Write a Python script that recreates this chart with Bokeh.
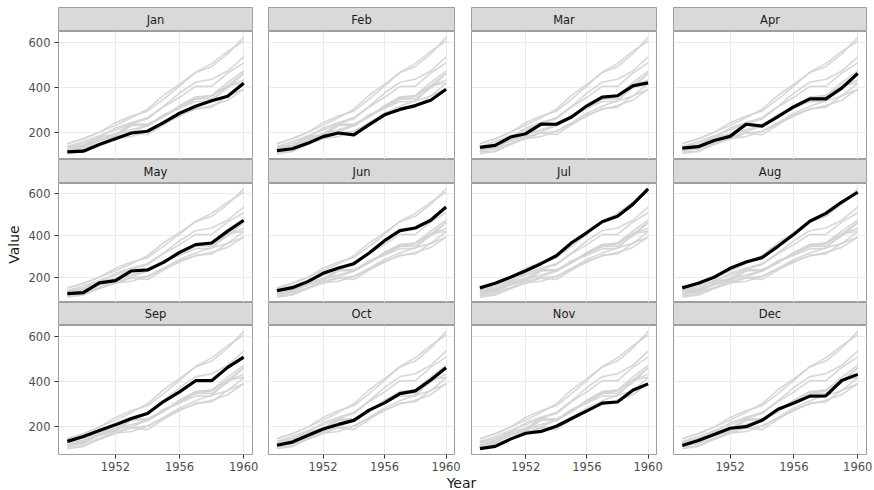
from bokeh.plotting import figure
from bokeh.models import Range1d, FixedTicker, LinearAxis, Grid
from bokeh.layouts import row, column
from bokeh.core.properties import value
from bokeh.embed import file_html
from bokeh.resources import INLINE

years = [1949, 1950, 1951, 1952, 1953, 1954, 1955, 1956, 1957, 1958, 1959, 1960]
months = ["Jan", "Feb", "Mar", "Apr", "May", "Jun", "Jul", "Aug", "Sep", "Oct", "Nov", "Dec"]

jan = [112, 115, 145, 171, 196, 204, 242, 284, 315, 340, 360, 417]
feb = [118, 126, 150, 180, 196, 188, 233, 277, 301, 318, 342, 391]
mar = [132, 141, 178, 193, 236, 235, 267, 317, 356, 362, 406, 419]
apr = [129, 135, 163, 181, 235, 227, 269, 313, 348, 348, 396, 461]
may = [121, 125, 172, 183, 229, 234, 270, 318, 355, 363, 420, 472]
jun = [135, 149, 178, 218, 243, 264, 315, 374, 422, 435, 472, 535]
jul = [148, 170, 199, 230, 264, 302, 364, 413, 465, 491, 548, 622]
aug = [148, 170, 199, 242, 272, 293, 347, 405, 467, 505, 559, 606]
sep = [136, 158, 184, 209, 237, 259, 312, 355, 404, 404, 463, 508]
oct_ = [119, 133, 162, 191, 211, 229, 274, 306, 347, 359, 407, 461]
nov = [104, 114, 146, 172, 180, 203, 237, 271, 305, 310, 362, 390]
dec = [118, 140, 166, 194, 201, 229, 278, 306, 336, 337, 405, 432]
series = [jan, feb, mar, apr, may, jun, jul, aug, sep, oct_, nov, dec]

x_ticks = [1952, 1956, 1960]
y_ticks = [200, 400, 600]

FONT = "DejaVu Sans"
GRID = "#EBEBEB"
BORDER = "#9E9E9E"
STRIP = "#D9D9D9"

# layout geometry (page margin is 0 with Bokeh's template)
vfig_w = 25
col_borders = [(33, 194, 8), (8, 186, 8), (9, 185, 8), (9, 193, 6)]
strip_top = [7, 0, 0]
strip_h = [24, 24, 23]
frame_h = [128, 119, 129]
bottom_axis = 19
year_h = 17


def style_axis(ax):
    ax.axis_line_color = None
    ax.major_tick_line_color = "#333333"
    ax.major_tick_out = 4
    ax.major_tick_in = 0
    ax.minor_tick_line_color = None
    ax.major_label_standoff = 4
    ax.major_label_text_font = FONT
    ax.major_label_text_font_size = "11.5px"
    ax.major_label_text_color = "#4D4D4D"


def make_strip(c, r, label):
    bl, fw, br = col_borders[c]
    s = figure(width=bl + fw + br, height=strip_h[r] + strip_top[r],
               x_range=Range1d(0, 1), y_range=Range1d(0, 1),
               x_axis_location=None, y_axis_location=None, toolbar_location=None,
               output_backend="svg", min_border_left=bl, min_border_right=br,
               min_border_top=strip_top[r], min_border_bottom=0,
               background_fill_color=STRIP, outline_line_color=BORDER, outline_line_width=1)
    s.grid.visible = False
    s.text(x=[0.5], y=[0.5], text=[label], text_align="center", text_baseline="middle",
           text_font=value(FONT), text_font_size="11.5px", text_color="#1A1A1A")
    return s


def make_panel(c, r, idx):
    bl, fw, br = col_borders[c]
    bb = bottom_axis if r == 2 else 0
    p = figure(width=bl + fw + br, height=frame_h[r] + bb,
               x_range=Range1d(1948.45, 1960.55), y_range=Range1d(78.1, 647.9),
               x_axis_location=None, y_axis_location=None, toolbar_location=None,
               output_backend="svg", min_border_left=bl, min_border_right=br,
               min_border_top=0, min_border_bottom=bb,
               background_fill_color="white", outline_line_color=BORDER, outline_line_width=1)
    p.grid.visible = False
    p.add_layout(Grid(dimension=0, ticker=FixedTicker(ticks=x_ticks), grid_line_color=GRID))
    p.add_layout(Grid(dimension=1, ticker=FixedTicker(ticks=y_ticks), grid_line_color=GRID))
    if c == 0:
        ax = LinearAxis(ticker=FixedTicker(ticks=y_ticks))
        style_axis(ax)
        p.add_layout(ax, "left")
    if r == 2:
        ax = LinearAxis(ticker=FixedTicker(ticks=x_ticks))
        style_axis(ax)
        ax.major_label_standoff = 3
        p.add_layout(ax, "below")
    for s in series:
        p.line(years, s, line_color="#D3D3D3", line_width=1.6, line_alpha=0.9)
    p.line(years, series[idx], line_color="black", line_width=3.2, line_join="round")
    return p


rows = []
for r in range(3):
    rows.append(row([make_strip(c, r, months[r * 4 + c]) for c in range(4)], spacing=0))
    rows.append(row([make_panel(c, r, r * 4 + c) for c in range(4)], spacing=0))
grid_col = column(rows, spacing=0)

total_h = sum(strip_top) + sum(strip_h) + sum(frame_h) + bottom_axis
vfig = figure(width=vfig_w, height=total_h, x_range=Range1d(0, vfig_w), y_range=Range1d(0, total_h),
              x_axis_location=None, y_axis_location=None, toolbar_location=None,
              output_backend="svg", min_border=0, outline_line_color=None)
vfig.grid.visible = False
vfig.text(x=[13.5], y=[total_h - 244], text=["Value"], angle=1.5707963, text_align="center",
          text_baseline="middle", text_font=value(FONT), text_font_size="14px", text_color="#1A1A1A")

full_w = vfig_w + sum(sum(cb) for cb in col_borders)
yfig = figure(width=full_w, height=year_h, x_range=Range1d(0, full_w), y_range=Range1d(0, year_h),
              x_axis_location=None, y_axis_location=None, toolbar_location=None,
              output_backend="svg", min_border=0, outline_line_color=None)
yfig.grid.visible = False
yfig.text(x=[461], y=[year_h / 2 - 1], text=["Year"], text_align="center", text_baseline="middle",
          text_font=value(FONT), text_font_size="14px", text_color="#1A1A1A")

layout = column([row([vfig, grid_col], spacing=0), yfig], spacing=0)

open("out.html", "w").write(file_html(layout, INLINE))
